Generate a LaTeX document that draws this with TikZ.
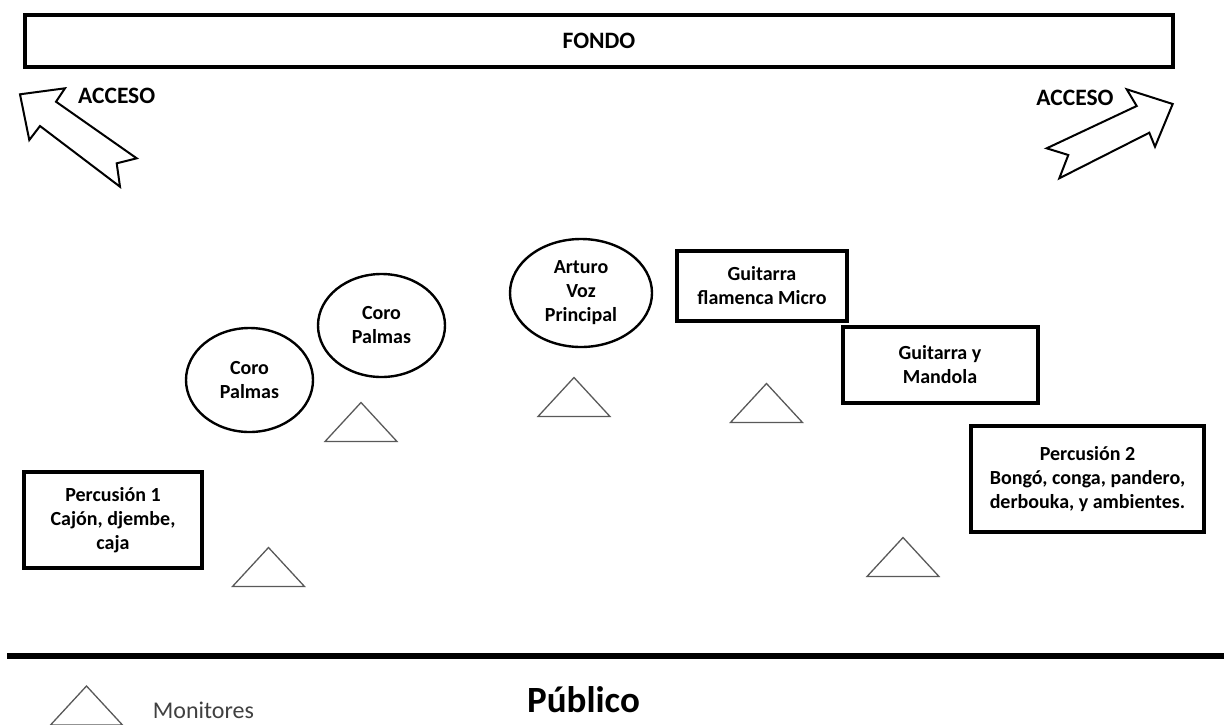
\documentclass[tikz,border=0pt]{standalone}
\usepackage{fontspec}
\setmainfont{Carlito}
\usetikzlibrary{shapes.geometric}
\begin{document}
\begin{tikzpicture}[x=1pt,y=-1pt,
 lbl/.style={font=\bfseries\fontsize{20}{24}\selectfont, align=center, text=black},
 big/.style={font=\bfseries\fontsize{23.5}{28}\selectfont, text=black},
 box/.style={lbl, draw, line width=4pt, inner sep=0pt},
 oval/.style={lbl, draw, ellipse, line width=2.4pt, inner sep=0pt},
 mon/.style={draw=black!65, line width=1.3pt, line join=miter},
 door/.style={draw, line width=2pt, line join=miter, fill=white},
 monitor/.pic={\draw[mon] (0,0) -- (-36,39) -- (36,39) -- cycle;}]
\useasboundingbox (0,0) rectangle (1224,724);
% back wall
\node[box, big, minimum width=1148pt, minimum height=52pt] (fondo) at (599,41) {FONDO};
% access arrows
\draw[door] (20,94.3) -- (65,88.3) -- (56,101.7) -- (136.7,158.3) -- (116.7,163.3) -- (120,186.7) -- (40,126) -- (29.3,140) -- cycle;
\draw[door] (1172.7,104) -- (1126.7,89.3) -- (1136.7,106) -- (1046.7,148.3) -- (1068.3,155) -- (1059.3,178.3) -- (1149.3,132.7) -- (1155,146.7) -- cycle;
\node[big] (accL) at (116.7,96) {ACCESO};
\node[big] (accR) at (1075,97.5) {ACCESO};
% performers
\node[box, minimum width=178pt, minimum height=96pt] (perc1) at (113,520) {Percusión 1\\Cajón, djembe,\\caja};
\node[box, minimum width=170pt, minimum height=70pt] (guit) at (762,285.5) {Guitarra\\flamenca Micro};
\node[box, minimum width=195pt, minimum height=76pt] (mand) at (940,365) {Guitarra y\\Mandola};
\node[box, minimum width=233pt, minimum height=106pt] (perc2) at (1087.5,479) {Percusión 2\\Bongó, conga, pandero,\\derbouka, y ambientes.};
\node[oval, minimum width=127pt, minimum height=104pt] (coro1) at (249.5,380) {Coro\\Palmas};
\node[oval, minimum width=127pt, minimum height=103pt] (coro2) at (381.5,325.5) {Coro\\Palmas};
\node[oval, minimum width=142pt, minimum height=108pt] (arturo) at (581,293) {Arturo\\Voz\\Principal};
% monitors
\pic at (268.5,547.5) {monitor};
\pic at (361,402.5) {monitor};
\pic at (574,377.5) {monitor};
\pic at (766.5,383.5) {monitor};
\pic at (903,537.5) {monitor};
% audience edge
\draw[line width=6pt] (7,656) -- (1224,656);
% legend
\pic at (86.5,686) {monitor};
\node[font=\fontsize{24}{28}\selectfont, text=black!75, anchor=base west, inner sep=0pt] (legtxt) at (152.7,718) {Monitores};
\node[font=\bfseries\fontsize{37}{44}\selectfont, anchor=base, inner sep=0pt] (publico) at (583.5,712.3) {Público};
\end{tikzpicture}
\end{document}
